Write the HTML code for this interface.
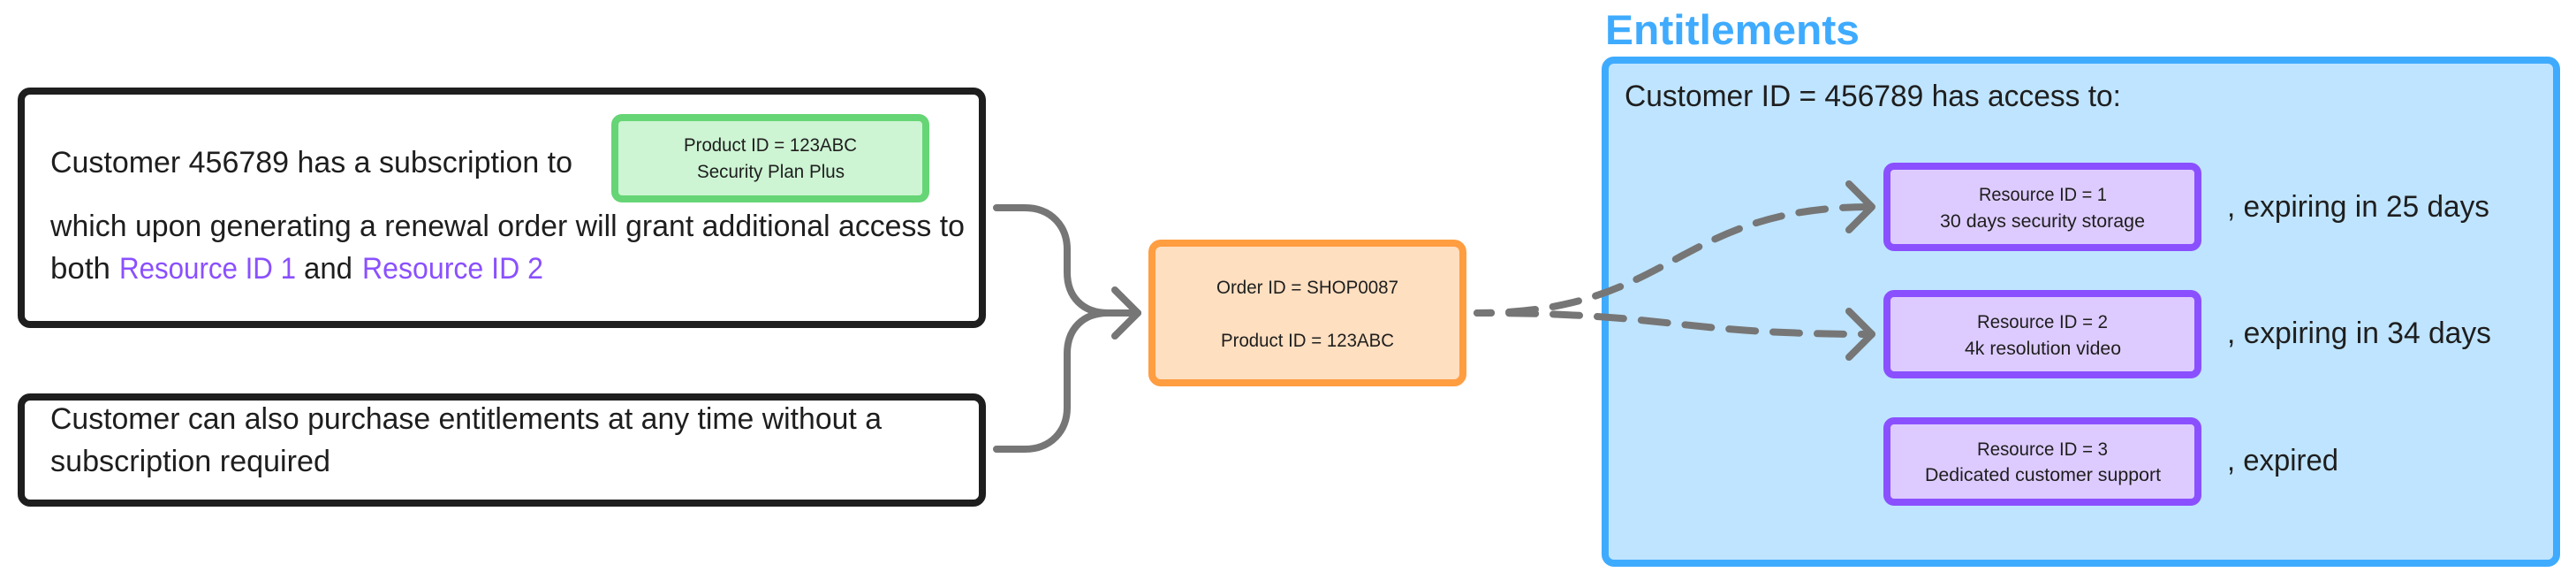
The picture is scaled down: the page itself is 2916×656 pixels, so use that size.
<!DOCTYPE html>
<html><head><meta charset="utf-8"><style>
html,body{margin:0;padding:0;background:#fff}
svg{display:block}
text{font-family:"Liberation Sans",sans-serif;fill:#1e1e1e}
.l{font-size:34px}.s{font-size:21.5px}
.p{fill:#8a50ff}
</style></head><body>
<svg width="2916" height="656" viewBox="0 0 2916 656" xmlns="http://www.w3.org/2000/svg">
<rect x="24" y="103" width="1088" height="264" rx="10" fill="#fff" stroke="#1e1e1e" stroke-width="8"/>
<rect x="24" y="449" width="1088" height="120" rx="10" fill="#fff" stroke="#1e1e1e" stroke-width="8"/>
<rect x="696" y="133" width="352" height="92" rx="8" fill="#cdf4d3" stroke="#66d575" stroke-width="8"/>
<rect x="1304" y="275" width="352" height="158" rx="10" fill="#fedfc0" stroke="#ff9d41" stroke-width="8"/>
<rect x="1817" y="68" width="1077" height="569" rx="10" fill="#bfe4ff" stroke="#3fabff" stroke-width="8"/>
<rect x="2136" y="188" width="352" height="92" rx="8" fill="#ddcbff" stroke="#8a50ff" stroke-width="8"/>
<rect x="2136" y="332" width="352" height="92" rx="8" fill="#ddcbff" stroke="#8a50ff" stroke-width="8"/>
<rect x="2136" y="476" width="352" height="92" rx="8" fill="#ddcbff" stroke="#8a50ff" stroke-width="8"/>

<g fill="none" stroke="#767676" stroke-width="8" stroke-linecap="round" stroke-linejoin="round">
<path d="M1128 235 H1160 C1190 235 1208 256 1208 282 V308 C1208 336 1226 354 1254 354 H1288"/>
<path d="M1128 508 H1160 C1190 508 1208 487 1208 461 V400 C1208 372 1226 354 1254 354 H1288"/>
<path d="M1262 328 L1288 354 L1262 380"/>
<path d="M2093 208 L2119 234 L2093 260"/>
<path d="M2093 352 L2119 378 L2093 404"/>
<path d="M1672 354 C1895 354 1895 234 2119 234" stroke-dasharray="30 20" stroke-dashoffset="14"/>
<path d="M1672 354 C1895 354 1895 378 2119 378" stroke-dasharray="30 20" stroke-dashoffset="14"/>
</g>

<text class="l" x="57" y="195" textLength="591" lengthAdjust="spacingAndGlyphs">Customer 456789 has a subscription to</text>
<text class="l" x="57" y="267" textLength="1035" lengthAdjust="spacingAndGlyphs">which upon generating a renewal order will grant additional access to</text>
<text class="l" x="57" y="315" textLength="68" lengthAdjust="spacingAndGlyphs">both</text>
<text class="l p" x="135" y="315" textLength="200" lengthAdjust="spacingAndGlyphs">Resource ID 1</text>
<text class="l" x="344" y="315" textLength="55" lengthAdjust="spacingAndGlyphs">and</text>
<text class="l p" x="410" y="315" textLength="205" lengthAdjust="spacingAndGlyphs">Resource ID 2</text>
<text class="l" x="57" y="485" textLength="941" lengthAdjust="spacingAndGlyphs">Customer can also purchase entitlements at any time without a</text>
<text class="l" x="57" y="533" textLength="317" lengthAdjust="spacingAndGlyphs">subscription required</text>

<text class="s" x="774" y="171" textLength="196" lengthAdjust="spacingAndGlyphs">Product ID = 123ABC</text>
<text class="s" x="789" y="201" textLength="167" lengthAdjust="spacingAndGlyphs">Security Plan Plus</text>
<text class="s" x="1377" y="332" textLength="206" lengthAdjust="spacingAndGlyphs">Order ID = SHOP0087</text>
<text class="s" x="1382" y="392" textLength="196" lengthAdjust="spacingAndGlyphs">Product ID = 123ABC</text>

<text x="1817" y="50" font-size="47" font-weight="700" style="fill:#3fabff" textLength="288" lengthAdjust="spacingAndGlyphs">Entitlements</text>
<text class="l" x="1839" y="120" textLength="562" lengthAdjust="spacingAndGlyphs">Customer ID = 456789 has access to:</text>

<text class="s" x="2240" y="227" textLength="145" lengthAdjust="spacingAndGlyphs">Resource ID = 1</text>
<text class="s" x="2196" y="257" textLength="232" lengthAdjust="spacingAndGlyphs">30 days security storage</text>
<text class="s" x="2238" y="371" textLength="148" lengthAdjust="spacingAndGlyphs">Resource ID = 2</text>
<text class="s" x="2224" y="401" textLength="177" lengthAdjust="spacingAndGlyphs">4k resolution video</text>
<text class="s" x="2238" y="515" textLength="148" lengthAdjust="spacingAndGlyphs">Resource ID = 3</text>
<text class="s" x="2179" y="544" textLength="267" lengthAdjust="spacingAndGlyphs">Dedicated customer support</text>

<text class="l" x="2521" y="245" textLength="297" lengthAdjust="spacingAndGlyphs">, expiring in 25 days</text>
<text class="l" x="2521" y="388" textLength="299" lengthAdjust="spacingAndGlyphs">, expiring in 34 days</text>
<text class="l" x="2521" y="532" textLength="126" lengthAdjust="spacingAndGlyphs">, expired</text>
</svg>
</body></html>
